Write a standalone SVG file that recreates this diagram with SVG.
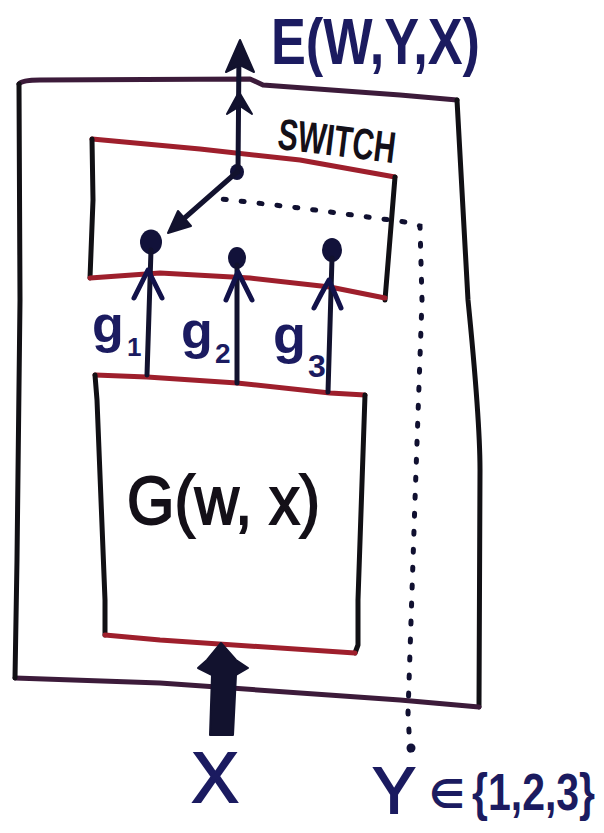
<svg xmlns="http://www.w3.org/2000/svg" width="604" height="833" viewBox="0 0 604 833">
<style>
  .blk{fill:none;stroke:#111014;stroke-width:5;stroke-linecap:round;stroke-linejoin:round}
  .red{fill:none;stroke:#9e1f2c;stroke-width:5;stroke-linecap:round;stroke-linejoin:round}
  .pur{fill:none;stroke:#3c1b3a;stroke-width:5;stroke-linecap:round;stroke-linejoin:round}
  .wire{fill:none;stroke:#12122e;stroke-width:5;stroke-linecap:round;stroke-linejoin:round}
  .head{fill:#12122e;stroke:#12122e;stroke-width:2;stroke-linejoin:round}
  .chev{fill:none;stroke:#12124a;stroke-width:5;stroke-linecap:round;stroke-linejoin:round}
  .dot{fill:#12123a}
  .dots{fill:none;stroke:#101030;stroke-width:5;stroke-linecap:round;stroke-dasharray:3 15}
  .lbl{font-family:"Liberation Sans","DejaVu Sans",sans-serif;fill:#1b1b60;font-weight:bold}
  .thin{font-weight:normal;stroke:#1b1b60;stroke-width:2}
  .blab{font-family:"Liberation Sans","DejaVu Sans",sans-serif;fill:#141018}
</style>

<g id="outer-box">
  <path class="pur" d="M19,84 Q22,80 40,80 L250,79 L263,85 L400,95 L457,100"/>
  <path class="blk" d="M457,100 L468,300 Q480,420 480,470 L479,707"/>
  <path class="pur" d="M479,707 L400,700 L160,683 L15,678"/>
  <path class="blk" d="M19,84 L20,300 L17,560 L15,678"/>
</g>

<g id="switch">
  <path class="red" d="M92,139 L200,149 L300,160 L395,177"/>
  <path class="blk" d="M92,139 L93,200 L90,278"/>
  <path class="blk" d="M395,177 L385,300"/>
  <path class="red" d="M90,278 L160,273 L250,278 L330,287 L385,298"/>
  <text class="blab" x="278" y="156" font-size="44" font-weight="bold" textLength="118" lengthAdjust="spacingAndGlyphs" transform="rotate(7 337 140)">SWITCH</text>
  <ellipse class="dot" cx="151" cy="242" rx="11" ry="12.5"/>
  <ellipse class="dot" cx="237" cy="258" rx="9" ry="11"/>
  <ellipse class="dot" cx="332" cy="250" rx="10" ry="12"/>
  <ellipse class="dot" cx="237" cy="172" rx="7" ry="8"/>
</g>

<g id="g-module">
  <path class="red" d="M95,375 L147,377 L237,383 L330,393 L365,395"/>
  <path class="blk" d="M95,375 L97,400 L105,600 L105,635"/>
  <path class="blk" d="M365,395 L358,600 L358,645 L355,653"/>
  <path class="red" d="M105,635 L160,640 L355,653"/>
  <text class="blab" x="127" y="524" font-size="68" stroke="#141018" stroke-width="2" textLength="193" lengthAdjust="spacingAndGlyphs">G(w, x)</text>
</g>

<g id="connectors">
  <path class="wire" d="M238,172 L239,50"/>
  <polygon class="head" points="240,40 254,72 240,65 226,72"/>
  <polygon class="head" points="239,92 252,114 240,106 227,114"/>
  <path class="wire" d="M237,172 L180,222"/>
  <polygon class="head" points="168,233 191,226 185,219 178,211"/>
  <path class="wire" d="M151,250 L147,375"/>
  <path class="chev" d="M134,298 Q141,284 148,270 Q155,284 162,298"/>
  <path class="wire" d="M237,265 L237,383"/>
  <path class="chev" d="M226,300 Q232,286 238,272 Q245,286 252,300"/>
  <path class="wire" d="M332,258 L328,392"/>
  <path class="chev" d="M314,308 Q321,294 329,280 Q335,294 341,308"/>
  <polygon class="head" points="221,643 236,660 248,668 236,675 233,735 210,735 212,675 198,668 207,660"/>
  <path class="dots" d="M410,750 L408,713 L415,500 L422,300 L420,226 L405,222 L300,208 L213,198"/>
  <circle class="dot" cx="411" cy="748" r="4.5"/>
</g>

<g id="labels">
  <text class="lbl" x="271" y="64" font-size="64" textLength="209" lengthAdjust="spacingAndGlyphs">E(W,Y,X)</text>
  <text class="lbl" x="92" y="342" font-size="52">g</text>
  <text class="lbl" x="127" y="356" font-size="26">1</text>
  <text class="lbl" x="181" y="348" font-size="52">g</text>
  <text class="lbl" x="215" y="363" font-size="28">2</text>
  <text class="lbl" x="273" y="353" font-size="54">g</text>
  <text class="lbl" x="308" y="377" font-size="32">3</text>
  <text class="lbl thin" x="215" y="802" font-size="70" text-anchor="middle">X</text>
  <text class="lbl thin" x="394" y="813" font-size="64" text-anchor="middle">Y</text>
  <text class="lbl" x="429" y="808" font-size="40">∈</text>
  <text class="lbl" x="472" y="810" font-size="41" transform="translate(0 810) scale(1 1.25) translate(0 -810)">{1,2,3}</text>
</g>
</svg>
